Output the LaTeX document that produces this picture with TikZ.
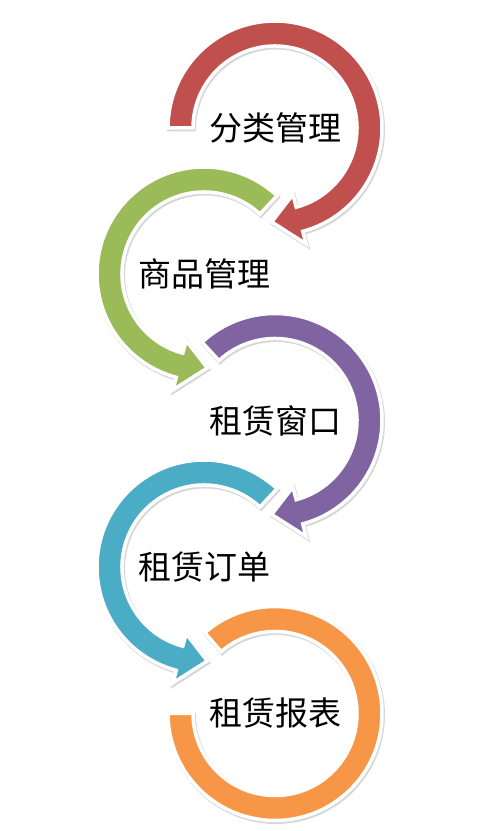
\documentclass[tikz,border=0pt]{standalone}
\usepackage{fontspec}
\newfontfamily\cjk{Noto Sans CJK SC}
\usetikzlibrary{shadows}

\definecolor{ringred}{HTML}{C0504D}
\definecolor{ringgreen}{HTML}{9BBB59}
\definecolor{ringpurple}{HTML}{8064A2}
\definecolor{ringcyan}{HTML}{4BACC6}
\definecolor{ringorange}{HTML}{F79646}

% ring with arrowhead: #1 centre node, #2 start angle, #3 end angle, #4 tip angle, #5 colour
\newcommand{\turnarrow}[5]{%
  \fill[ring, fill=#5, shift={(#1.center)}]
    (#2:107) arc[start angle=#2, end angle=#3, radius=107]
    -- (#3:120) -- (#4:94) -- (#3:69) -- (#3:82)
    arc[start angle=#3, end angle=#2, radius=82] -- cycle;
}

\begin{document}
\begin{tikzpicture}[
    x=1pt, y=1pt,
    ring/.style={draw=white, line width=3.5,
      drop shadow={shadow xshift=1pt, shadow yshift=-1.5pt, fill=black!35, draw=black!35, line width=4, opacity=0.45}},
    label/.style={font=\cjk\fontsize{33}{40}\selectfont, inner sep=0pt}
]
\useasboundingbox (0,0) rectangle (480,831);

\node[label] (cat) at (275,703) {分类管理};
\node[label] (goods) at (204,557) {商品管理};
\node[label] (window) at (275,410.5) {租赁窗口};
\node[label] (order) at (204,264) {租赁订单};
\node[label] (report) at (275,117.5) {租赁报表};

\turnarrow{cat}{180}{-75}{-92}{ringred}
\turnarrow{goods}{47}{255}{272}{ringgreen}
\turnarrow{window}{133}{-75}{-92}{ringpurple}
\turnarrow{order}{47}{255}{272}{ringcyan}
\fill[ring, fill=ringorange, shift={(report.center)}]
  (131:107) arc[start angle=131, end angle=-180, radius=107]
  -- (-180:82) arc[start angle=-180, end angle=131, radius=82] -- cycle;
\end{tikzpicture}
\end{document}
